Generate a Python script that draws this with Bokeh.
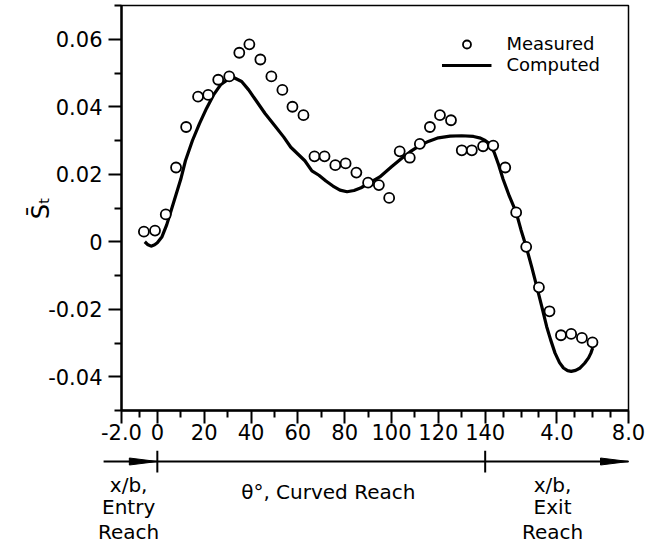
from bokeh.plotting import figure
from bokeh.models import Range1d, FixedTicker, Legend, LegendItem
from bokeh.layouts import column
from bokeh.embed import file_html
from bokeh.resources import INLINE

# ---------------- data ----------------
# measured points: entry reach (x/b), curved reach (theta deg), exit reach (x/b)
meas_entry_xb = [-0.75, -0.13]
meas_entry_s = [0.0030, 0.0033]
meas_curved_theta = [3.6, 8.0, 12.3, 17.4, 21.7, 26.0, 30.7, 35.0, 39.3, 44.0, 48.7,
                     53.4, 57.7, 62.4, 67.1, 71.4, 76.0, 80.4, 85.0, 90.0, 94.6, 99.0,
                     103.5, 107.8, 112.1, 116.4, 120.7, 125.4, 130.0, 134.3, 139.1]
meas_curved_s = [0.0081, 0.022, 0.034, 0.043, 0.0435, 0.048, 0.049, 0.056, 0.0585, 0.054, 0.049,
                 0.045, 0.040, 0.0375, 0.0253, 0.0253, 0.0227, 0.0232, 0.0205, 0.0175, 0.0168, 0.0130,
                 0.0268, 0.0249, 0.029, 0.034, 0.0375, 0.036, 0.0271, 0.0271, 0.0283]
meas_exit_xb = [0.45, 1.12, 1.73, 2.29, 3.0, 3.59, 4.23, 4.8, 5.4, 5.99]
meas_exit_s = [0.0285, 0.022, 0.0087, -0.0015, -0.0135, -0.0206, -0.0277, -0.0273, -0.0285, -0.0298]

# computed curve
comp_entry_xb = [-0.7, -0.55, -0.35, -0.15, 0.0]
comp_entry_s = [0.0, -0.0008, -0.0013, -0.0009, -0.0003]
comp_curved_theta = [2, 4, 6, 8, 10, 12, 15, 18, 21, 24, 27, 30, 33, 36, 39, 42, 46, 50, 54, 57,
                     60, 63, 66, 69, 72, 75, 78, 81, 84, 87, 90, 95, 100, 104, 108, 112, 116, 120,
                     125, 130, 135, 138, 140]
comp_curved_s = [0.0015, 0.005, 0.0095, 0.014, 0.0185, 0.024, 0.030, 0.035, 0.0395, 0.0435, 0.0465,
                 0.048, 0.0485, 0.0475, 0.045, 0.042, 0.038, 0.0345, 0.031, 0.028,
                 0.026, 0.024, 0.021, 0.0197, 0.018, 0.0165, 0.0153, 0.0148, 0.0152, 0.016, 0.0172,
                 0.0192, 0.0222, 0.0245, 0.0267, 0.0285, 0.0298, 0.0308,
                 0.0313, 0.0314, 0.0312, 0.0307, 0.030]
comp_exit_xb = [0.25, 0.5, 0.75, 1.0, 1.35, 1.73, 2.0, 2.29, 2.6, 2.88, 3.15, 3.43, 3.65, 3.9,
                4.15, 4.37, 4.6, 4.8, 5.05, 5.3, 5.55, 5.77, 5.9, 6.0]
comp_exit_s = [0.029, 0.0265, 0.0228, 0.0185, 0.0135, 0.0087, 0.0035, -0.0015, -0.0075, -0.0133,
               -0.019, -0.0251, -0.029, -0.033, -0.0358, -0.0374, -0.0382, -0.0384, -0.0381,
               -0.0374, -0.036, -0.0344, -0.033, -0.0315]

# tick values and labels
entry_major_xb = [-2.0, 0.0]
entry_major_labels = ["-2.0", "0"]
curved_major_theta = [20, 40, 60, 80, 100, 120, 140]
curved_major_labels = ["20", "40", "60", "80", "100", "120", "140"]
exit_major_xb = [4.0, 8.0]
exit_major_labels = ["4.0", "8.0"]
entry_minor_xb = [-1.0]
curved_minor_theta = [10, 30, 50, 70, 90, 110, 130]
exit_minor_xb = [1.0, 2.0, 3.0, 5.0, 6.0, 7.0]

y_major = [-0.04, -0.02, 0.0, 0.02, 0.04, 0.06]
y_major_labels = ["-0.04", "-0.02", "0", "0.02", "0.04", "0.06"]
y_minor = [-0.05, -0.03, -0.01, 0.01, 0.03, 0.05, 0.07]

# ---------------- composite x axis ----------------
XB_UNIT = 7.65      # axis units per x/b
THETA_END = 140.0


def entry_pos(v):
    return [XB_UNIT * a for a in v]


def curved_pos(v):
    return [float(a) for a in v]


def exit_pos(v):
    return [THETA_END + XB_UNIT * a for a in v]


X0 = entry_pos([-2.0])[0]
X1 = exit_pos([8.0])[0]

FONT = "DejaVu Sans"
W, H1, H2 = 645, 450, 92
BL, BR, BT, BB = 121, 17, 5, 40

p = figure(width=W, height=H1, x_range=Range1d(X0, X1), y_range=Range1d(-0.05, 0.07),
           output_backend="svg", toolbar_location=None,
           min_border_left=BL, min_border_right=BR, min_border_top=BT, min_border_bottom=BB)
p.frame_align = False
p.grid.visible = False
p.outline_line_color = "black"
p.outline_line_width = 1.5
p.background_fill_color = "white"
p.border_fill_color = "white"

x_major = entry_pos(entry_major_xb) + curved_pos(curved_major_theta) + exit_pos(exit_major_xb)
x_labels = entry_major_labels + curved_major_labels + exit_major_labels
x_minor = entry_pos(entry_minor_xb) + curved_pos(curved_minor_theta) + exit_pos(exit_minor_xb)
p.xaxis.ticker = FixedTicker(ticks=x_major, minor_ticks=x_minor)
p.xaxis.major_label_overrides = {t: s for t, s in zip(x_major, x_labels)}
p.yaxis.ticker = FixedTicker(ticks=y_major, minor_ticks=y_minor)
p.yaxis.major_label_overrides = {t: s for t, s in zip(y_major, y_major_labels)}

for ax in (p.xaxis, p.yaxis):
    ax.axis_line_width = 2.4
    ax.axis_line_color = "black"
    ax.major_tick_line_width = 2
    ax.minor_tick_line_width = 2
    ax.major_tick_line_color = "black"
    ax.minor_tick_line_color = "black"
    ax.major_tick_out = 13
    ax.major_tick_in = 0
    ax.minor_tick_out = 7
    ax.minor_tick_in = 0
    ax.major_label_text_font = FONT
    ax.major_label_text_font_size = "21px"
    ax.major_label_text_color = "black"
p.xaxis.major_label_standoff = 0
p.yaxis.major_label_standoff = 6
p.yaxis.axis_label = "S\u0304\u209c"
p.yaxis.axis_label_text_font = FONT
p.yaxis.axis_label_text_font_style = "normal"
p.yaxis.axis_label_text_font_size = "24px"
p.yaxis.axis_label_text_color = "black"
p.yaxis.axis_label_standoff = -10

mx = entry_pos(meas_entry_xb) + curved_pos(meas_curved_theta) + exit_pos(meas_exit_xb)
my = meas_entry_s + meas_curved_s + meas_exit_s
cx = entry_pos(comp_entry_xb) + curved_pos(comp_curved_theta) + exit_pos(comp_exit_xb)
cy = comp_entry_s + comp_curved_s + comp_exit_s

r_line = p.line(cx, cy, line_color="black", line_width=3.2)
r_pts = p.scatter(mx, my, marker="circle", size=10, fill_color="white",
                  line_color="black", line_width=1.8)

legend = Legend(items=[LegendItem(label="Measured", renderers=[r_pts]),
                       LegendItem(label="Computed", renderers=[r_line])],
                location="top_right", border_line_alpha=0, background_fill_alpha=0,
                glyph_width=50, glyph_height=20, label_height=20, label_standoff=15,
                spacing=0, padding=0, margin=28,
                label_text_font=FONT, label_text_font_size="18px", label_text_color="black")
p.add_layout(legend)

# ---------------- reach annotation strip ----------------
scale = (W - BL - BR) / (X1 - X0)
q = figure(width=W, height=H2, x_range=Range1d(X0 - BL / scale, X1 + BR / scale),
           y_range=Range1d(0, H2), output_backend="svg", toolbar_location=None,
           x_axis_location=None, y_axis_location=None, min_border=0)
q.frame_align = False
q.grid.visible = False
q.outline_line_color = None
q.background_fill_color = "white"
q.border_fill_color = "white"

ARROW_Y = 81
arrow_start = entry_pos([-3.0])[0]
arrow_end = X1
q.line([arrow_start, arrow_end], [ARROW_Y, ARROW_Y], line_color="black", line_width=2)
head_len = 28 / scale
head_half = 3.5
tips = [entry_pos([0.0])[0], arrow_end]
q.patches([[t - head_len, t, t - head_len] for t in tips],
          [[ARROW_Y - head_half, ARROW_Y, ARROW_Y + head_half] for _ in tips],
          fill_color="black", line_color="black", line_width=1)
marks = [entry_pos([0.0])[0], THETA_END]
q.segment(x0=marks, y0=[H2] * 2, x1=marks, y1=[70] * 2, line_color="black", line_width=2)

entry_lbl_x = entry_pos([-1.6])[0]
exit_lbl_x = exit_pos([3.76])[0]
curved_lbl_x = 73.0
q.text(x=[entry_lbl_x] * 3 + [exit_lbl_x] * 3 + [curved_lbl_x],
       y=[58, 36, 11, 58, 36, 11, 51],
       text=["x/b,", "Entry", "Reach", "x/b,", "Exit", "Reach", "\u03b8\u00b0, Curved Reach"],
       text_align="center", text_baseline="middle", text_font_size="20px",
       text_font={"value": FONT}, text_color="black")

layout = column(p, q, spacing=0)
open("out.html", "w").write(file_html(layout, INLINE))
